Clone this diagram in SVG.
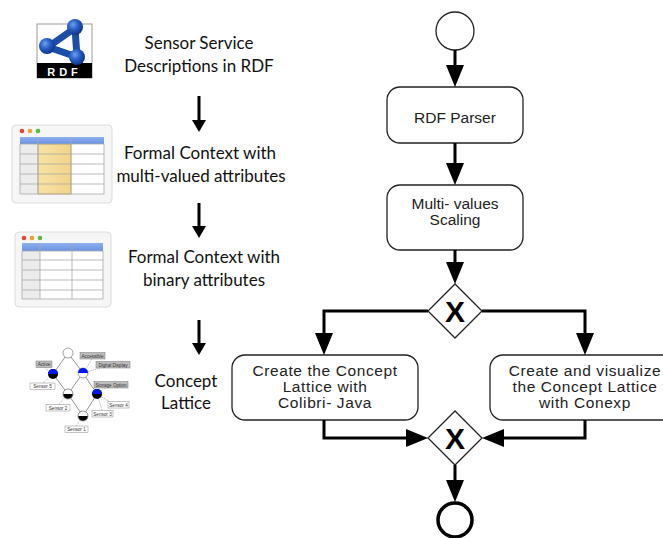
<svg xmlns="http://www.w3.org/2000/svg" width="663" height="538" viewBox="0 0 663 538">
  <style>
    .cap { font-family: Lato, "Open Sans", sans-serif; font-size: 17px; fill: #111; text-anchor: middle; }
    .task { fill: #fff; stroke: #222; stroke-width: 1.3; }
    .tlabel { font-family: "Liberation Sans", Arial, sans-serif; font-size: 15.5px; fill: #222; text-anchor: middle; }
    .flow { fill: none; stroke: #000; stroke-width: 3; }
    .gate { fill: #fff; stroke: #222; stroke-width: 1.3; }
    .gx { font-family: "Liberation Sans", Arial, sans-serif; font-size: 30px; font-weight: bold; fill: #000; text-anchor: middle; }
    .step { fill: none; stroke: #000; stroke-width: 3; }
    .win { fill: #f6f6f6; stroke: #dcdcdc; stroke-width: 1; }
    .grid { fill: none; stroke: #a9a9a9; stroke-width: 0.8; }
    .lk { stroke: #777; stroke-width: 0.8; fill: none; }
    .dot { stroke: #777; stroke-width: 0.6; stroke-dasharray: 1 1; fill: none; }
    .lg { fill: #bdbdbd; stroke: #777; stroke-width: 0.5; }
    .lw { fill: #fff; stroke: #888; stroke-width: 0.5; }
    .lt { font-family: "Liberation Sans", Arial, sans-serif; font-size: 4.6px; fill: #333; text-anchor: middle; }
  </style>
  <defs>
    <marker id="head" viewBox="0 0 22 18" refX="1" refY="9" markerWidth="22" markerHeight="18" markerUnits="userSpaceOnUse" orient="auto">
      <path d="M0,0 L22,9 L0,18 z" fill="#000"/>
    </marker>
    <marker id="head-s" viewBox="0 0 12 14" refX="1" refY="7" markerWidth="12" markerHeight="14" markerUnits="userSpaceOnUse" orient="auto">
      <path d="M0,0 L12,7 L0,14 z" fill="#000"/>
    </marker>
    <radialGradient id="ball" cx="0.38" cy="0.35" r="0.7">
      <stop offset="0" stop-color="#6fa0f0"/>
      <stop offset="0.45" stop-color="#2a5fc4"/>
      <stop offset="1" stop-color="#0c2f80"/>
    </radialGradient>
    <linearGradient id="hdr" x1="0" y1="0" x2="0" y2="1">
      <stop offset="0" stop-color="#8fb0f0"/>
      <stop offset="1" stop-color="#6a92e0"/>
    </linearGradient>
    <linearGradient id="yel" x1="0" y1="0" x2="1" y2="0">
      <stop offset="0" stop-color="#f7e2a6"/>
      <stop offset="1" stop-color="#f2d48a"/>
    </linearGradient>
    <clipPath id="half-top"><rect x="-10" y="-10" width="20" height="10"/></clipPath>
  </defs>

  <!-- ===== Left column: pipeline of artefacts ===== -->
  <g id="rdf-icon">
    <rect x="37" y="24" width="55" height="54" fill="#fff" stroke="#9a9a9a" stroke-width="1"/>
    <rect x="37" y="63" width="55" height="15" fill="#000"/>
    <text x="64.5" y="75.5" font-family="Liberation Sans, Arial, sans-serif" font-size="11" font-weight="bold" fill="#fff" text-anchor="middle" letter-spacing="4">RDF</text>
    <g stroke="#1b4ea6" stroke-width="7" stroke-linecap="round">
      <line x1="75" y1="28" x2="48" y2="47"/>
      <line x1="48" y1="47" x2="77" y2="57"/>
      <line x1="75" y1="28" x2="77" y2="57"/>
    </g>
    <circle cx="75" cy="27" r="8" fill="url(#ball)"/>
    <circle cx="47" cy="46" r="8" fill="url(#ball)"/>
    <circle cx="77" cy="57" r="8" fill="url(#ball)"/>
  </g>
  <g id="rdf-caption">
    <text class="cap" x="199" y="49">Sensor Service</text>
    <text class="cap" x="199" y="72">Descriptions in RDF</text>
  </g>

  <g id="mv-table">
    <rect class="win" x="12" y="125" width="100" height="78" rx="4"/>
    <circle cx="22" cy="131" r="2.3" fill="#e2463f"/>
    <circle cx="30" cy="131" r="2.3" fill="#eaa23a"/>
    <circle cx="38" cy="131" r="2.3" fill="#5cb946"/>
    <rect x="20" y="144" width="84" height="50" fill="#fff"/>
    <rect x="20" y="144" width="18" height="50" fill="#ececec"/>
    <rect x="38" y="144" width="33" height="50" fill="url(#yel)" stroke="#c9a656" stroke-width="0.8"/>
    <rect x="20" y="137" width="84" height="7" fill="url(#hdr)"/>
    <path class="grid" d="M20,144 H104 M20,154 H104 M20,164 H104 M20,174 H104 M20,184 H104 M20,194 H104 M20,144 V194 M104,144 V194 M38,137 V194 M71,137 V194"/>
  </g>
  <g id="mv-caption">
    <text class="cap" x="200" y="159">Formal Context with</text>
    <text class="cap" x="201" y="182">multi-valued attributes</text>
  </g>

  <g id="bin-table">
    <rect class="win" x="15" y="232" width="96" height="75" rx="4"/>
    <circle cx="24" cy="238" r="2.3" fill="#e2463f"/>
    <circle cx="32" cy="238" r="2.3" fill="#eaa23a"/>
    <circle cx="40" cy="238" r="2.3" fill="#5cb946"/>
    <rect x="22" y="251" width="81" height="48" fill="#fff"/>
    <rect x="22" y="251" width="18" height="48" fill="#ececec"/>
    <rect x="22" y="243" width="81" height="8" fill="url(#hdr)"/>
    <path class="grid" d="M22,251 H103 M22,260 H103 M22,270 H103 M22,280 H103 M22,290 H103 M22,299 H103 M22,251 V299 M103,251 V299 M40,243 V299 M72,243 V299"/>
  </g>
  <g id="bin-caption">
    <text class="cap" x="204" y="263">Formal Context with</text>
    <text class="cap" x="204" y="286">binary attributes</text>
  </g>

  <g id="lattice-icon">
    <path class="lk" d="M68,353 L53,374 L68,394 L83,416 L97,394 L83,373 L68,353 M83,373 L68,394"/>
    <path class="dot" d="M44,367 L53,374 M92,359 L83,373 M100,368 L83,373 M43,383 L53,374 M58,405 L68,394 M105,388 L97,394 M110,402 L97,394 M102,410 L97,394 M76,426 L83,416"/>
    <circle cx="68" cy="353" r="5" fill="#fff" stroke="#777" stroke-width="0.7"/>
    <g transform="translate(53,374)"><circle r="5" fill="#000"/><circle r="5" fill="#0018f0" clip-path="url(#half-top)"/></g>
    <g transform="translate(83,373)"><circle r="5" fill="#fff" stroke="#777" stroke-width="0.7"/><circle r="5" fill="#0018f0" clip-path="url(#half-top)"/></g>
    <g transform="translate(68,394)"><circle r="5" fill="#000"/><circle r="5" fill="#fff" clip-path="url(#half-top)"/><circle r="5" fill="none" stroke="#777" stroke-width="0.7"/></g>
    <g transform="translate(97,394)"><circle r="5" fill="#000"/><circle r="5" fill="#0018f0" clip-path="url(#half-top)"/></g>
    <g transform="translate(83,416)"><circle r="5" fill="#000"/><circle r="5" fill="#fff" clip-path="url(#half-top)"/><circle r="5" fill="none" stroke="#777" stroke-width="0.7"/></g>
    <rect class="lg" x="36" y="361" width="16" height="6.5"/><text class="lt" x="44" y="366">Active</text>
    <rect class="lg" x="80" y="352.5" width="25" height="6.5"/><text class="lt" x="92.5" y="357.5">Accessible</text>
    <rect class="lg" x="96" y="361.5" width="34" height="6.5"/><text class="lt" x="113" y="366.5">Digital Display</text>
    <rect class="lw" x="30" y="383" width="25" height="6.5"/><text class="lt" x="42.5" y="388">Sensor 5</text>
    <rect class="lg" x="94" y="381.5" width="34" height="6.5"/><text class="lt" x="111" y="386.5">Storage Option</text>
    <rect class="lw" x="46" y="404.5" width="24" height="6.5"/><text class="lt" x="58" y="409.5">Sensor 2</text>
    <rect class="lw" x="108" y="401.5" width="21" height="6.5"/><text class="lt" x="118.5" y="406.5">Sensor 4</text>
    <rect class="lw" x="92" y="410.5" width="21" height="6.5"/><text class="lt" x="102.5" y="415.5">Sensor 3</text>
    <rect class="lw" x="65" y="426" width="23" height="6.5"/><text class="lt" x="76.5" y="431">Sensor 1</text>
  </g>
  <g id="lattice-caption">
    <text class="cap" x="186" y="387">Concept</text>
    <text class="cap" x="186" y="409">Lattice</text>
  </g>

  <g id="pipeline-arrows">
    <path class="step" d="M199,96 V121" marker-end="url(#head-s)"/>
    <path class="step" d="M199,203 V227" marker-end="url(#head-s)"/>
    <path class="step" d="M199,320 V344" marker-end="url(#head-s)"/>
  </g>

  <!-- ===== Right column: BPMN process ===== -->
  <g id="start">
    <circle cx="455" cy="31" r="19" fill="#fff" stroke="#222" stroke-width="1.3"/>
  </g>
  <g id="rdf-parser">
    <rect class="task" x="387" y="87" width="136" height="56" rx="13"/>
    <text class="tlabel" x="455" y="123">RDF Parser</text>
  </g>
  <g id="scaling">
    <rect class="task" x="387" y="185" width="136" height="65" rx="13"/>
    <text class="tlabel" x="455" y="209">Multi- values</text>
    <text class="tlabel" x="455" y="225">Scaling</text>
  </g>
  <g id="split">
    <path class="gate" d="M455,284 L482,311 L455,338 L428,311 z"/>
    <text class="gx" x="455" y="322">X</text>
  </g>
  <g id="colibri">
    <rect class="task" x="232" y="355" width="186" height="65" rx="13"/>
    <text class="tlabel" x="325" y="376" letter-spacing="0.6">Create the Concept</text>
    <text class="tlabel" x="325" y="392" letter-spacing="0.6">Lattice with</text>
    <text class="tlabel" x="325" y="408" letter-spacing="0.6">Colibri- Java</text>
  </g>
  <g id="conexp">
    <rect class="task" x="490" y="355" width="190" height="65" rx="13"/>
    <text class="tlabel" x="585" y="376" letter-spacing="0.6">Create and visualize</text>
    <text class="tlabel" x="585" y="392" letter-spacing="0.6">the Concept Lattice</text>
    <text class="tlabel" x="585" y="408" letter-spacing="0.6">with Conexp</text>
  </g>
  <g id="join">
    <path class="gate" d="M455,411 L482,438 L455,465 L428,438 z"/>
    <text class="gx" x="455" y="449">X</text>
  </g>
  <g id="end">
    <circle cx="455" cy="520" r="17" fill="#fff" stroke="#000" stroke-width="3.5"/>
  </g>

  <g id="flows">
    <path class="flow" d="M455,50 V66" marker-end="url(#head)"/>
    <path class="flow" d="M455,143 V164" marker-end="url(#head)"/>
    <path class="flow" d="M455,250 V263" marker-end="url(#head)"/>
    <path class="flow" d="M428,311 H324 V334" marker-end="url(#head)"/>
    <path class="flow" d="M482,311 H585 V334" marker-end="url(#head)"/>
    <path class="flow" d="M324,420 V438 H407" marker-end="url(#head)"/>
    <path class="flow" d="M585,420 V438 H503" marker-end="url(#head)"/>
    <path class="flow" d="M455,465 V481" marker-end="url(#head)"/>
  </g>
</svg>
